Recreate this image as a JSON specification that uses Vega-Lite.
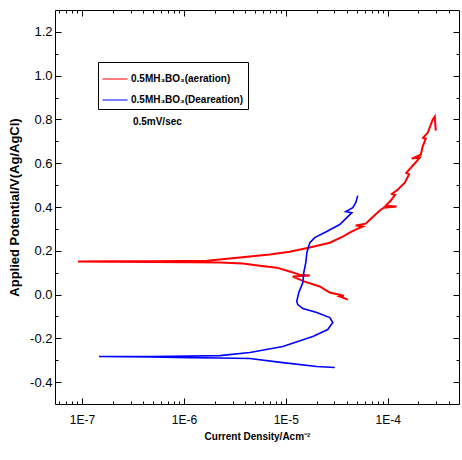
{
  "$schema": "https://vega.github.io/schema/vega-lite/v6.json",
  "width": 404,
  "height": 394,
  "autosize": {"type": "none"},
  "padding": {"left": 55, "top": 10, "right": 3, "bottom": 56},
  "config": {
    "view": {"stroke": "black", "strokeWidth": 1},
    "font": "Liberation Sans",
    "axis": {"domain": false, "grid": false, "tickColor": "black", "tickWidth": 1, "labelColor": "black", "titleColor": "black", "zindex": 1}
  },
  "datasets": {
    "curves": [
      {"s": "0.5MH₃BO₃(aeration)", "i": 1, "I": 4.06e-5, "V": -0.023},
      {"s": "0.5MH₃BO₃(aeration)", "i": 2, "I": 3.38e-5, "V": -0.009},
      {"s": "0.5MH₃BO₃(aeration)", "i": 3, "I": 3.71e-5, "V": -0.005},
      {"s": "0.5MH₃BO₃(aeration)", "i": 4, "I": 2.70e-5, "V": 0.009},
      {"s": "0.5MH₃BO₃(aeration)", "i": 5, "I": 2.15e-5, "V": 0.037},
      {"s": "0.5MH₃BO₃(aeration)", "i": 6, "I": 1.53e-5, "V": 0.059},
      {"s": "0.5MH₃BO₃(aeration)", "i": 7, "I": 1.17e-5, "V": 0.082},
      {"s": "0.5MH₃BO₃(aeration)", "i": 8, "I": 1.72e-5, "V": 0.087},
      {"s": "0.5MH₃BO₃(aeration)", "i": 9, "I": 1.37e-5, "V": 0.091},
      {"s": "0.5MH₃BO₃(aeration)", "i": 10, "I": 1.09e-5, "V": 0.105},
      {"s": "0.5MH₃BO₃(aeration)", "i": 11, "I": 8.17e-6, "V": 0.123},
      {"s": "0.5MH₃BO₃(aeration)", "i": 12, "I": 5.56e-6, "V": 0.132},
      {"s": "0.5MH₃BO₃(aeration)", "i": 13, "I": 3.78e-6, "V": 0.142},
      {"s": "0.5MH₃BO₃(aeration)", "i": 14, "I": 2.25e-6, "V": 0.146},
      {"s": "0.5MH₃BO₃(aeration)", "i": 15, "I": 1.15e-6, "V": 0.148},
      {"s": "0.5MH₃BO₃(aeration)", "i": 16, "I": 4.65e-7, "V": 0.149},
      {"s": "0.5MH₃BO₃(aeration)", "i": 17, "I": 1.88e-7, "V": 0.150},
      {"s": "0.5MH₃BO₃(aeration)", "i": 18, "I": 9.14e-8, "V": 0.151},
      {"s": "0.5MH₃BO₃(aeration)", "i": 19, "I": 1.88e-7, "V": 0.152},
      {"s": "0.5MH₃BO₃(aeration)", "i": 20, "I": 4.65e-7, "V": 0.152},
      {"s": "0.5MH₃BO₃(aeration)", "i": 21, "I": 9.15e-7, "V": 0.153},
      {"s": "0.5MH₃BO₃(aeration)", "i": 22, "I": 1.68e-6, "V": 0.155},
      {"s": "0.5MH₃BO₃(aeration)", "i": 23, "I": 3.54e-6, "V": 0.169},
      {"s": "0.5MH₃BO₃(aeration)", "i": 24, "I": 6.97e-6, "V": 0.183},
      {"s": "0.5MH₃BO₃(aeration)", "i": 25, "I": 1.09e-5, "V": 0.196},
      {"s": "0.5MH₃BO₃(aeration)", "i": 26, "I": 1.72e-5, "V": 0.215},
      {"s": "0.5MH₃BO₃(aeration)", "i": 27, "I": 2.70e-5, "V": 0.237},
      {"s": "0.5MH₃BO₃(aeration)", "i": 28, "I": 3.62e-5, "V": 0.265},
      {"s": "0.5MH₃BO₃(aeration)", "i": 29, "I": 4.23e-5, "V": 0.283},
      {"s": "0.5MH₃BO₃(aeration)", "i": 30, "I": 4.85e-5, "V": 0.297},
      {"s": "0.5MH₃BO₃(aeration)", "i": 31, "I": 5.69e-5, "V": 0.311},
      {"s": "0.5MH₃BO₃(aeration)", "i": 32, "I": 4.85e-5, "V": 0.315},
      {"s": "0.5MH₃BO₃(aeration)", "i": 33, "I": 6.08e-5, "V": 0.324},
      {"s": "0.5MH₃BO₃(aeration)", "i": 34, "I": 6.67e-5, "V": 0.342},
      {"s": "0.5MH₃BO₃(aeration)", "i": 35, "I": 8.36e-5, "V": 0.384},
      {"s": "0.5MH₃BO₃(aeration)", "i": 36, "I": 9.14e-5, "V": 0.397},
      {"s": "0.5MH₃BO₃(aeration)", "i": 37, "I": 1.22e-4, "V": 0.402},
      {"s": "0.5MH₃BO₃(aeration)", "i": 38, "I": 9.55e-5, "V": 0.406},
      {"s": "0.5MH₃BO₃(aeration)", "i": 39, "I": 1.05e-4, "V": 0.425},
      {"s": "0.5MH₃BO₃(aeration)", "i": 40, "I": 1.18e-4, "V": 0.455},
      {"s": "0.5MH₃BO₃(aeration)", "i": 41, "I": 1.10e-4, "V": 0.460},
      {"s": "0.5MH₃BO₃(aeration)", "i": 42, "I": 1.25e-4, "V": 0.479},
      {"s": "0.5MH₃BO₃(aeration)", "i": 43, "I": 1.47e-4, "V": 0.511},
      {"s": "0.5MH₃BO₃(aeration)", "i": 44, "I": 1.62e-4, "V": 0.550},
      {"s": "0.5MH₃BO₃(aeration)", "i": 45, "I": 1.52e-4, "V": 0.556},
      {"s": "0.5MH₃BO₃(aeration)", "i": 46, "I": 1.80e-4, "V": 0.594},
      {"s": "0.5MH₃BO₃(aeration)", "i": 47, "I": 2.06e-4, "V": 0.626},
      {"s": "0.5MH₃BO₃(aeration)", "i": 48, "I": 1.72e-4, "V": 0.621},
      {"s": "0.5MH₃BO₃(aeration)", "i": 49, "I": 2.11e-4, "V": 0.639},
      {"s": "0.5MH₃BO₃(aeration)", "i": 50, "I": 2.20e-4, "V": 0.676},
      {"s": "0.5MH₃BO₃(aeration)", "i": 51, "I": 2.36e-4, "V": 0.712},
      {"s": "0.5MH₃BO₃(aeration)", "i": 52, "I": 2.22e-4, "V": 0.716},
      {"s": "0.5MH₃BO₃(aeration)", "i": 53, "I": 2.47e-4, "V": 0.740},
      {"s": "0.5MH₃BO₃(aeration)", "i": 54, "I": 2.76e-4, "V": 0.799},
      {"s": "0.5MH₃BO₃(aeration)", "i": 55, "I": 2.89e-4, "V": 0.813},
      {"s": "0.5MH₃BO₃(aeration)", "i": 56, "I": 2.96e-4, "V": 0.749},
      {"s": "0.5MH₃BO₃(Deareation)", "i": 1, "I": 3.02e-5, "V": -0.333},
      {"s": "0.5MH₃BO₃(Deareation)", "i": 2, "I": 2.01e-5, "V": -0.329},
      {"s": "0.5MH₃BO₃(Deareation)", "i": 3, "I": 9.35e-6, "V": -0.311},
      {"s": "0.5MH₃BO₃(Deareation)", "i": 4, "I": 4.44e-6, "V": -0.292},
      {"s": "0.5MH₃BO₃(Deareation)", "i": 5, "I": 2.25e-6, "V": -0.290},
      {"s": "0.5MH₃BO₃(Deareation)", "i": 6, "I": 1.15e-6, "V": -0.288},
      {"s": "0.5MH₃BO₃(Deareation)", "i": 7, "I": 4.65e-7, "V": -0.285},
      {"s": "0.5MH₃BO₃(Deareation)", "i": 8, "I": 1.47e-7, "V": -0.283},
      {"s": "0.5MH₃BO₃(Deareation)", "i": 9, "I": 4.65e-7, "V": -0.283},
      {"s": "0.5MH₃BO₃(Deareation)", "i": 10, "I": 1.15e-6, "V": -0.281},
      {"s": "0.5MH₃BO₃(Deareation)", "i": 11, "I": 2.25e-6, "V": -0.279},
      {"s": "0.5MH₃BO₃(Deareation)", "i": 12, "I": 4.44e-6, "V": -0.265},
      {"s": "0.5MH₃BO₃(Deareation)", "i": 13, "I": 9.35e-6, "V": -0.237},
      {"s": "0.5MH₃BO₃(Deareation)", "i": 14, "I": 1.84e-5, "V": -0.192},
      {"s": "0.5MH₃BO₃(Deareation)", "i": 15, "I": 2.58e-5, "V": -0.160},
      {"s": "0.5MH₃BO₃(Deareation)", "i": 16, "I": 2.89e-5, "V": -0.128},
      {"s": "0.5MH₃BO₃(Deareation)", "i": 17, "I": 2.70e-5, "V": -0.105},
      {"s": "0.5MH₃BO₃(Deareation)", "i": 18, "I": 2.01e-5, "V": -0.082},
      {"s": "0.5MH₃BO₃(Deareation)", "i": 19, "I": 1.47e-5, "V": -0.064},
      {"s": "0.5MH₃BO₃(Deareation)", "i": 20, "I": 1.31e-5, "V": -0.046},
      {"s": "0.5MH₃BO₃(Deareation)", "i": 21, "I": 1.28e-5, "V": -0.032},
      {"s": "0.5MH₃BO₃(Deareation)", "i": 22, "I": 1.34e-5, "V": 0.009},
      {"s": "0.5MH₃BO₃(Deareation)", "i": 23, "I": 1.47e-5, "V": 0.055},
      {"s": "0.5MH₃BO₃(Deareation)", "i": 24, "I": 1.50e-5, "V": 0.100},
      {"s": "0.5MH₃BO₃(Deareation)", "i": 25, "I": 1.57e-5, "V": 0.146},
      {"s": "0.5MH₃BO₃(Deareation)", "i": 26, "I": 1.61e-5, "V": 0.192},
      {"s": "0.5MH₃BO₃(Deareation)", "i": 27, "I": 1.72e-5, "V": 0.237},
      {"s": "0.5MH₃BO₃(Deareation)", "i": 28, "I": 1.92e-5, "V": 0.260},
      {"s": "0.5MH₃BO₃(Deareation)", "i": 29, "I": 2.52e-5, "V": 0.288},
      {"s": "0.5MH₃BO₃(Deareation)", "i": 30, "I": 3.38e-5, "V": 0.320},
      {"s": "0.5MH₃BO₃(Deareation)", "i": 31, "I": 4.06e-5, "V": 0.356},
      {"s": "0.5MH₃BO₃(Deareation)", "i": 32, "I": 4.44e-5, "V": 0.374},
      {"s": "0.5MH₃BO₃(Deareation)", "i": 33, "I": 3.87e-5, "V": 0.379},
      {"s": "0.5MH₃BO₃(Deareation)", "i": 34, "I": 4.54e-5, "V": 0.397},
      {"s": "0.5MH₃BO₃(Deareation)", "i": 35, "I": 4.85e-5, "V": 0.420},
      {"s": "0.5MH₃BO₃(Deareation)", "i": 36, "I": 5.08e-5, "V": 0.452}
    ]
  },
  "layer": [
    {
      "data": {"name": "curves"},
      "transform": [{"filter": "datum.s == '0.5MH₃BO₃(aeration)'"}],
      "mark": {"type": "line", "strokeWidth": 2},
      "encoding": {
        "x": {
          "field": "I", "type": "quantitative",
          "scale": {"type": "log", "domain": [5.44e-8, 5.0e-4], "nice": false},
          "axis": {
            "orient": "bottom",
            "values": [1e-7, 1e-6, 1e-5, 1e-4],
            "ticks": false,
            "labelExpr": "datum.value == 1e-7 ? '1E-7' : datum.value == 1e-6 ? '1E-6' : datum.value == 1e-5 ? '1E-5' : '1E-4'",
            "labelFontSize": 12,
            "labelPadding": 10,
            "labelOverlap": false,
            "labelFlush": false,
            "title": "Current Density/Acm⁻²",
            "titleFontSize": 10,
            "titleFontWeight": "bold",
            "titlePadding": 6
          }
        },
        "y": {
          "field": "V", "type": "quantitative",
          "scale": {"domain": [-0.5, 1.3], "nice": false, "zero": false},
          "axis": {
            "orient": "left",
            "values": [-0.4, -0.2, 0, 0.2, 0.4, 0.6, 0.8, 1, 1.2],
            "ticks": false,
            "labelExpr": "replace(format(datum.value, '.1f'), '\u2212', '-')",
            "labelFontSize": 13,
            "labelPadding": 3,
            "labelOverlap": false,
            "labelFlush": false,
            "title": "Applied Potential/V(Ag/AgCl)",
            "titleFontSize": 13,
            "titleFontWeight": "bold",
            "titlePadding": 8
          }
        },
        "color": {
          "field": "s", "type": "nominal",
          "scale": {"domain": ["0.5MH₃BO₃(aeration)", "0.5MH₃BO₃(Deareation)"], "range": ["#ff0000", "#0000ff"]},
          "legend": {
            "orient": "none", "legendX": 43, "legendY": 52, "title": null,
            "strokeColor": "black", "fillColor": "white", "padding": 4,
            "symbolType": "stroke", "symbolSize": 625, "symbolStrokeWidth": 1,
            "labelFontSize": 10, "labelFontWeight": "bold", "labelColor": "black", "labelLimit": 400, "labelOffset": 3,
            "rowPadding": 3
          }
        },
        "order": {"field": "i", "type": "quantitative"}
      }
    },
    {
      "data": {"name": "curves"},
      "transform": [{"filter": "datum.s == '0.5MH₃BO₃(Deareation)'"}],
      "mark": {"type": "line", "strokeWidth": 1.6},
      "encoding": {
        "x": {
          "field": "I", "type": "quantitative",
          "scale": {"type": "log", "domain": [5.44e-8, 5.0e-4], "nice": false},
          "axis": {
            "orient": "top",
            "offset": -394,
            "values": [6e-8, 7e-8, 8e-8, 9e-8, 1e-7, 2e-7, 3e-7, 4e-7, 5e-7, 6e-7, 7e-7, 8e-7, 9e-7, 1e-6, 2e-6, 3e-6, 4e-6, 5e-6, 6e-6, 7e-6, 8e-6, 9e-6, 1e-5, 2e-5, 3e-5, 4e-5, 5e-5, 6e-5, 7e-5, 8e-5, 9e-5, 1e-4, 2e-4, 3e-4, 4e-4],
            "tickSize": {"condition": {"test": "indexof([1e-7, 1e-6, 1e-5, 1e-4], datum.value) >= 0", "value": 6}, "value": 3},
            "labels": false,
            "title": null
          }
        },
        "y": {
          "field": "V", "type": "quantitative",
          "scale": {"domain": [-0.5, 1.3], "nice": false, "zero": false},
          "axis": {
            "orient": "right",
            "offset": -404,
            "values": [-0.4, -0.3, -0.2, -0.1, 0, 0.1, 0.2, 0.3, 0.4, 0.5, 0.6, 0.7, 0.8, 0.9, 1, 1.1, 1.2],
            "tickSize": {"condition": {"test": "indexof([-0.4, -0.2, 0, 0.2, 0.4, 0.6, 0.8, 1, 1.2], datum.value) >= 0", "value": 6}, "value": 3},
            "labels": false,
            "title": null
          }
        },
        "color": {
          "field": "s", "type": "nominal",
          "scale": {"domain": ["0.5MH₃BO₃(aeration)", "0.5MH₃BO₃(Deareation)"], "range": ["#ff0000", "#0000ff"]},
          "legend": {
            "orient": "none", "legendX": 43, "legendY": 52, "title": null,
            "strokeColor": "black", "fillColor": "white", "padding": 4,
            "symbolType": "stroke", "symbolSize": 625, "symbolStrokeWidth": 1,
            "labelFontSize": 10, "labelFontWeight": "bold", "labelColor": "black", "labelLimit": 400, "labelOffset": 3,
            "rowPadding": 3
          }
        },
        "order": {"field": "i", "type": "quantitative"}
      }
    },
    {
      "data": {"values": [{"I": 3.16e-7, "V": 0.79, "t": "0.5mV/sec"}]},
      "mark": {"type": "text", "align": "left", "baseline": "middle", "fontWeight": "bold", "fontSize": 10, "color": "black"},
      "encoding": {
        "x": {
          "field": "I", "type": "quantitative",
          "scale": {"type": "log", "domain": [5.44e-8, 5.0e-4], "nice": false},
          "axis": {
            "orient": "bottom",
            "offset": -394,
            "values": [6e-8, 7e-8, 8e-8, 9e-8, 1e-7, 2e-7, 3e-7, 4e-7, 5e-7, 6e-7, 7e-7, 8e-7, 9e-7, 1e-6, 2e-6, 3e-6, 4e-6, 5e-6, 6e-6, 7e-6, 8e-6, 9e-6, 1e-5, 2e-5, 3e-5, 4e-5, 5e-5, 6e-5, 7e-5, 8e-5, 9e-5, 1e-4, 2e-4, 3e-4, 4e-4],
            "tickSize": {"condition": {"test": "indexof([1e-7, 1e-6, 1e-5, 1e-4], datum.value) >= 0", "value": 6}, "value": 3},
            "labels": false,
            "title": null
          }
        },
        "y": {
          "field": "V", "type": "quantitative",
          "scale": {"domain": [-0.5, 1.3], "nice": false, "zero": false},
          "axis": {
            "orient": "left",
            "offset": -404,
            "values": [-0.4, -0.3, -0.2, -0.1, 0, 0.1, 0.2, 0.3, 0.4, 0.5, 0.6, 0.7, 0.8, 0.9, 1, 1.1, 1.2],
            "tickSize": {"condition": {"test": "indexof([-0.4, -0.2, 0, 0.2, 0.4, 0.6, 0.8, 1, 1.2], datum.value) >= 0", "value": 6}, "value": 3},
            "labels": false,
            "title": null
          }
        },
        "text": {"field": "t"}
      }
    }
  ],
  "resolve": {"axis": {"x": "independent", "y": "independent"}}
}
